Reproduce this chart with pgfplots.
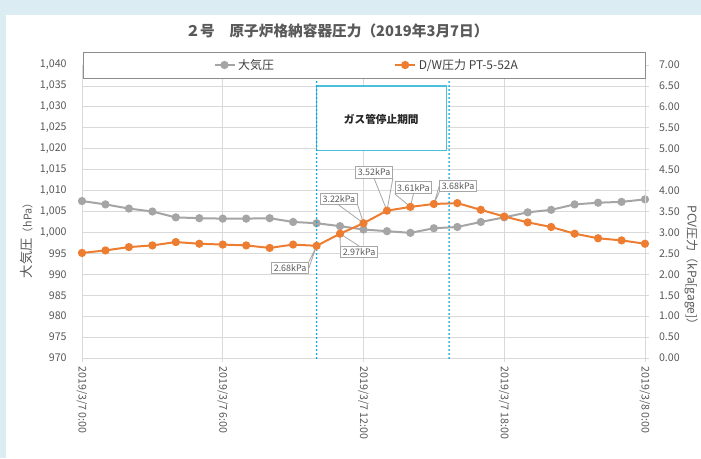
\documentclass[border=0pt]{standalone}
\usepackage{pgfplots}
\pgfplotsset{compat=1.18}
\usepackage{fontspec}
\setmainfont{Noto Sans CJK JP}
\definecolor{bgblue}{RGB}{219,236,242}
\definecolor{txt}{RGB}{89,89,89}
\definecolor{gridc}{RGB}{217,217,217}
\definecolor{atm}{RGB}{165,165,165}
\definecolor{dw}{RGB}{237,125,49}
\definecolor{dotc}{RGB}{0,160,220}
\definecolor{boxc}{RGB}{75,192,220}
\definecolor{callc}{RGB}{166,166,166}
\definecolor{legbord}{RGB}{140,140,140}
\begin{document}
\begin{tikzpicture}[
  callout/.style={draw=callc, fill=white, text=txt, font=\fontsize{6.7}{8}\selectfont, inner sep=1.6pt, line width=0.6pt},
  leader/.style={callc, line width=0.6pt},
]
\fill[bgblue] (0,0) rectangle (525.75pt,343.5pt);
\fill[white] (4.5pt,0) rectangle (525.75pt,332pt);
\node[text=txt,font=\bfseries\fontsize{11}{13}\selectfont] at (252.75pt,320.5pt) {２号　原子炉格納容器圧力（2019年3月7日）};
\begin{axis}[
  at={(61.5pt,75pt)}, anchor=south west, scale only axis,
  width=422.25pt, height=219.75pt,
  xmin=0, xmax=24, ymin=970, ymax=1040,
  xtick={0,6,12,18,24},
  xticklabels={2019/3/7 0:00, 2019/3/7 6:00, 2019/3/7 12:00, 2019/3/7 18:00, 2019/3/8 0:00},
  xticklabel style={rotate=-90, anchor=west, font=\fontsize{8}{9}\selectfont, text=txt},
  ytick={970,975,...,1040},
  yticklabel style={font=\fontsize{8}{9}\selectfont, text=txt, xshift=-5pt, /pgf/number format/.cd, 1000 sep={,}, assume math mode=true},
  ymajorgrids, xmajorgrids, grid style={gridc, line width=0.6pt},
  axis x line*=bottom, axis y line*=left,
  axis line style={gridc, line width=0.6pt},
  ytick style={draw=none},
  xtick style={gridc, line width=0.6pt}, tick align=outside, major tick length=3pt,
]
\addplot[atm, line width=1.5pt, mark=*, mark size=2.3pt, mark options={fill=atm, draw=atm}] coordinates {
(0,1007.5) (1,1006.7) (2,1005.7) (3,1005.0) (4,1003.6) (5,1003.4) (6,1003.3) (7,1003.3) (8,1003.4)
(9,1002.5) (10,1002.2) (11,1001.5) (12,1000.7) (13,1000.3) (14,999.9) (15,1001.0) (16,1001.3)
(17,1002.5) (18,1003.6) (19,1004.8) (20,1005.4) (21,1006.7) (22,1007.1) (23,1007.3) (24,1007.9)};
\end{axis}
\begin{axis}[
  at={(61.5pt,75pt)}, anchor=south west, scale only axis,
  width=422.25pt, height=219.75pt,
  xmin=0, xmax=24, ymin=0, ymax=7,
  axis x line=none, axis y line*=right,
  ytick={0,0.5,...,7},
  yticklabel style={font=\fontsize{8}{9}\selectfont, text=txt, xshift=4pt, /pgf/number format/.cd, fixed, fixed zerofill, precision=2, assume math mode=true},
  axis line style={gridc, line width=0.6pt},
  ytick style={gridc, line width=0.6pt}, tick align=outside, major tick length=3pt,
  clip=false,
  legend image code/.code={\draw[mark repeat=2,mark phase=2,#1] plot coordinates {(0pt,0pt) (7.5pt,0pt) (15pt,0pt)};},
  legend style={at={(axis cs:12.15,7)}, anchor=center, draw=none, fill=none,
    font=\fontsize{9}{10}\selectfont, text=black!75, legend columns=2,
    /tikz/every even column/.append style={column sep=88pt}},
]
\addlegendimage{atm, line width=1.5pt, mark=*, mark size=2.3pt, mark options={fill=atm, draw=atm}}
\addlegendentry{大気圧}
\addplot[dw, line width=1.5pt, mark=*, mark size=2.3pt, mark options={fill=dw, draw=dw}] coordinates {
(0,2.51) (1,2.57) (2,2.65) (3,2.69) (4,2.77) (5,2.73) (6,2.71) (7,2.69) (8,2.63)
(9,2.71) (10,2.68) (11,2.97) (12,3.22) (13,3.52) (14,3.61) (15,3.68) (16,3.70)
(17,3.54) (18,3.38) (19,3.24) (20,3.13) (21,2.97) (22,2.86) (23,2.81) (24,2.73)};
\addlegendentry{D/W圧力 PT-5-52A}
% legend frame
\draw[legbord, line width=0.6pt, fill=white] (axis cs:0.04,6.69) rectangle (axis cs:24,7.31);
% gas stop box
\draw[boxc, line width=0.9pt, fill=white] (axis cs:10,4.95) rectangle (axis cs:15.55,6.5);
\node[font=\bfseries\fontsize{8}{9}\selectfont, text=black!85] at (axis cs:12.76,5.70) {ガス管停止期間};
\draw[dotc, line width=1.6pt, line cap=round, dash pattern=on 0pt off 3pt] (axis cs:10,0) -- (axis cs:10,6.66);
\draw[dotc, line width=1.6pt, line cap=round, dash pattern=on 0pt off 3pt] (axis cs:15.65,0) -- (axis cs:15.65,6.66);
% callouts
\node[callout] (c1) at (axis cs:8.87,2.15) {2.68kPa};
\draw[leader] (c1.north east) -- (axis cs:10,2.68) -- (c1.east);
\node[callout] (c2) at (axis cs:11.81,2.53) {2.97kPa};
\draw[leader] (c2.north west) -- (axis cs:11,2.97) -- (c2.north);
\node[callout] (c3) at (axis cs:10.95,3.80) {3.22kPa};
\draw[leader] (c3.south east) -- (axis cs:12,3.22) -- (c3.south);
\node[callout] (c4) at (axis cs:12.45,4.44) {3.52kPa};
\draw[leader] (c4.south) -- (axis cs:13,3.52) -- (c4.south east);
\node[callout] (c5) at (axis cs:14.13,4.07) {3.61kPa};
\draw[leader] (c5.south west) -- (axis cs:14,3.61) -- (c5.south);
\node[callout] (c6) at (axis cs:16.03,4.11) {3.68kPa};
\draw[leader] (c6.south west) -- (axis cs:15,3.68) -- (c6.west);
\end{axis}
\node[rotate=90, text=txt] at (20pt,165pt) {{\fontsize{10}{12}\selectfont 大気圧}{\fontsize{8}{10}\selectfont （hPa）}};
\node[rotate=-90, text=txt, font=\fontsize{9}{11}\selectfont, inner sep=0pt] at (518.5pt,142.5pt) {PCV圧力（kPa[gage]）};
\pgfresetboundingbox
\path[use as bounding box] (0,0) rectangle (525.75pt,343.5pt);
\end{tikzpicture}
\end{document}
